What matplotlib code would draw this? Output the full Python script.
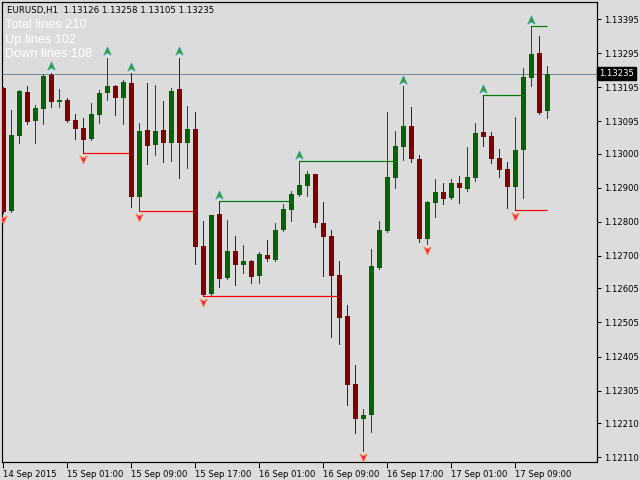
import matplotlib
matplotlib.use("Agg")
import matplotlib.pyplot as plt
import matplotlib.transforms as mtransforms
from matplotlib.path import Path
import numpy as np

symbol = "EURUSD,H1"
opens = [1.13193, 1.12832, 1.13052, 1.13181, 1.13096, 1.13131, 1.13231, 1.13153, 1.13157, 1.13099,
         1.13075, 1.13043, 1.13113, 1.13178, 1.13198, 1.13163, 1.13207, 1.12873, 1.13069, 1.13025,
         1.13069, 1.13031, 1.13190, 1.13031, 1.13072, 1.12729, 1.12588, 1.12823, 1.12635, 1.12715,
         1.12673, 1.12685, 1.12641, 1.12703, 1.12688, 1.12776, 1.12835, 1.12879, 1.12905, 1.12940,
         1.12797, 1.12758, 1.12644, 1.12524, 1.12325, 1.12222, 1.12234, 1.12665, 1.12773, 1.12929,
         1.13020, 1.13081, 1.12984, 1.12750, 1.12855, 1.12888, 1.12870, 1.12914, 1.12896, 1.12929,
         1.13064, 1.13052, 1.12987, 1.12955, 1.12902, 1.13011, 1.13222, 1.13295, 1.13126]
highs = [1.13196, 1.13128, 1.13187, 1.13198, 1.13143, 1.13234, 1.13237, 1.13190, 1.13163, 1.13116,
         1.13105, 1.13149, 1.13187, 1.13281, 1.13201, 1.13216, 1.13236, 1.13090, 1.13207, 1.13201,
         1.13154, 1.13193, 1.13281, 1.13140, 1.13122, 1.12802, 1.12820, 1.12861, 1.12805, 1.12758,
         1.12732, 1.12687, 1.12712, 1.12747, 1.12797, 1.12852, 1.12890, 1.12978, 1.12949, 1.12941,
         1.12858, 1.12776, 1.12685, 1.12556, 1.12380, 1.12251, 1.12720, 1.12802, 1.13122, 1.13066,
         1.13198, 1.13137, 1.12996, 1.12861, 1.12926, 1.12914, 1.12926, 1.12935, 1.13020, 1.13090,
         1.13172, 1.13064, 1.13014, 1.12976, 1.13108, 1.13251, 1.13374, 1.13345, 1.13258]
lows = [1.12826, 1.12829, 1.13031, 1.13087, 1.13031, 1.13087, 1.13137, 1.13137, 1.13093, 1.13043,
        1.13002, 1.13041, 1.13090, 1.13157, 1.13113, 1.13087, 1.12844, 1.12832, 1.12970, 1.12996,
        1.12976, 1.12978, 1.12929, 1.12958, 1.12676, 1.12583, 1.12585, 1.12609, 1.12632, 1.12615,
        1.12650, 1.12621, 1.12621, 1.12685, 1.12686, 1.12774, 1.12802, 1.12876, 1.12876, 1.12785,
        1.12641, 1.12462, 1.12442, 1.12263, 1.12181, 1.12128, 1.12184, 1.12662, 1.12770, 1.12899,
        1.12981, 1.12976, 1.12741, 1.12735, 1.12814, 1.12852, 1.12868, 1.12855, 1.12890, 1.12920,
        1.13022, 1.12973, 1.12932, 1.12841, 1.12835, 1.12870, 1.13198, 1.13116, 1.13105]
closes = [1.12829, 1.13055, 1.13184, 1.13093, 1.13134, 1.13228, 1.13152, 1.13156, 1.13096, 1.13072,
          1.13040, 1.13116, 1.13178, 1.13198, 1.13163, 1.13210, 1.12873, 1.13066, 1.13022, 1.13066,
          1.13031, 1.13184, 1.13031, 1.13072, 1.12726, 1.12585, 1.12820, 1.12632, 1.12715, 1.12673,
          1.12685, 1.12638, 1.12706, 1.12691, 1.12776, 1.12838, 1.12882, 1.12908, 1.12940, 1.12797,
          1.12756, 1.12641, 1.12518, 1.12322, 1.12222, 1.12234, 1.12671, 1.12776, 1.12932, 1.13022,
          1.13081, 1.12984, 1.12750, 1.12858, 1.12888, 1.12867, 1.12914, 1.12899, 1.12932, 1.13061,
          1.13049, 1.12984, 1.12952, 1.12902, 1.13011, 1.13225, 1.13292, 1.13119, 1.13235]

up_arrow_bars = [6, 13, 16, 22, 27, 37, 50, 60, 66]
down_arrow_bars = [0, 10, 17, 25, 45, 53, 64]
up_line_start = [27, 37, 60, 66]
up_line_end = [36, 49, 65, 68]
down_line_start = [10, 17, 25, 64]
down_line_end = [16, 24, 42, 68]

total_lines = 210
up_lines = 102
down_lines = 108

xtick_bars = [0, 8, 16, 24, 32, 40, 48, 56, 64]
xtick_labels = ["14 Sep 2015", "15 Sep 01:00", "15 Sep 09:00", "15 Sep 17:00", "16 Sep 01:00",
                "16 Sep 09:00", "16 Sep 17:00", "17 Sep 01:00", "17 Sep 09:00"]
ytick_values = [1.13395, 1.13295, 1.13195, 1.13095, 1.13000, 1.12900, 1.12800, 1.12700,
                1.12605, 1.12505, 1.12405, 1.12305, 1.12210, 1.12110]

BG = "#DCDCDC"
BULL = "#006400"
BEAR = "#800000"
PX = 0.72  # one pixel in points

fig = plt.figure(figsize=(6.4, 4.8), dpi=100, facecolor=BG)
ax = fig.add_axes([2 / 640, 18 / 480, 595 / 640, 460 / 480])
ax.set_facecolor(BG)

o = np.array(opens); h = np.array(highs); l = np.array(lows); c = np.array(closes)
x = np.arange(len(o))
cols = [BULL if cc >= oo else BEAR for oo, cc in zip(o, c)]

last = c[-1]
ax.axhline(last, color="#778899", lw=PX, zorder=1)

ax.vlines(x, l, h, colors=cols, lw=PX, zorder=3, antialiased=False)
body_h = np.maximum(np.abs(c - o), 0.00003)
ax.bar(x, body_h, bottom=np.minimum(o, c), width=0.6, color=cols, lw=0,
       zorder=4, antialiased=False)

for s, e in zip(up_line_start, up_line_end):
    ax.hlines(h[s], s, e, color="#007A00", lw=PX * 1.2, zorder=2)
for s, e in zip(down_line_start, down_line_end):
    ax.hlines(l[s], s, e, color="#FF0000", lw=PX * 1.2, zorder=2)

up_path = Path([(0, 1), (0.8, -0.8), (0, -0.3), (-0.8, -0.8), (0, 1)],
               [Path.MOVETO, Path.LINETO, Path.LINETO, Path.LINETO, Path.CLOSEPOLY])
down_path = Path([(0, -1), (0.8, 0.8), (0, 0.3), (-0.8, 0.8), (0, -1)],
                 [Path.MOVETO, Path.LINETO, Path.LINETO, Path.LINETO, Path.CLOSEPOLY])
off = 0.00019
ua = np.array(up_arrow_bars); da = np.array(down_arrow_bars)
ax.plot(ua, h[ua] + off, ls="none", marker=up_path, ms=6.5, mfc="#3A9A1E",
        mec="#30A8A0", mew=0.6, zorder=5)
ax.plot(da, l[da] - off * 0.9, ls="none", marker=down_path, ms=6.5, mfc="#FF1E3C",
        mec="#FF8A50", mew=0.6, zorder=5)

ax.set_xlim(-0.1625, 74.21)
ax.set_ylim(1.120957, 1.134449)

for sp in ax.spines.values():
    sp.set_color("black")
    sp.set_linewidth(PX * 1.2)

ax.yaxis.tick_right()
ax.set_yticks(ytick_values)
ax.set_yticklabels([f"{v:.5f}" for v in ytick_values])
ax.tick_params(axis="y", direction="out", length=3, width=PX, pad=2,
               labelsize=6.1, colors="black")
ax.set_xticks(xtick_bars)
ax.set_xticklabels(xtick_labels)
ax.tick_params(axis="x", direction="out", length=4, width=PX, pad=2,
               labelsize=6.1, colors="black")
for lab in ax.get_xticklabels():
    lab.set_ha("left")

trans = mtransforms.blended_transform_factory(ax.transAxes, ax.transData)
ax.text(1.003, last, f"{last:.5f}", transform=trans, ha="left", va="center",
        fontsize=6.1, color="white", zorder=10,
        bbox=dict(boxstyle="square,pad=0.25", fc="black", ec="black"))

fig.text(7 / 640, 1 - 11 / 480,
         f"{symbol}  {o[-1]:.5f} {h[-1]:.5f} {l[-1]:.5f} {c[-1]:.5f}",
         fontsize=6.2, ha="left", va="center", color="black")
for i, t in enumerate([f"Total lines {total_lines}", f"Up lines {up_lines}",
                       f"Down lines {down_lines}"]):
    fig.text(5 / 640, 1 - (25 + 14.5 * i) / 480, t, fontsize=9.2,
             family="Liberation Sans", ha="left", va="center", color="white")

fig.savefig("out.png", dpi=100, facecolor=BG)
